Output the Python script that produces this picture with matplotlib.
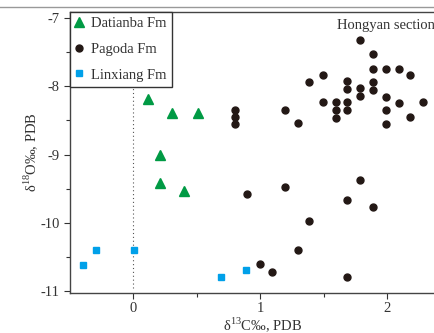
import matplotlib
matplotlib.use("Agg")
import matplotlib.pyplot as plt
from matplotlib.lines import Line2D

plt.rcParams['font.family'] = ['Liberation Serif', 'DejaVu Serif']
plt.rcParams['mathtext.fontset'] = 'custom'
plt.rcParams['mathtext.rm'] = 'Liberation Serif'
plt.rcParams['axes.unicode_minus'] = False

# Datianba Fm (green triangles)
dat_x = [0.115, 0.307, 0.507, 0.21, 0.21, 0.40]
dat_y = [-8.18, -8.39, -8.39, -9.00, -9.42, -9.53]

# Pagoda Fm (black circles)
pag_x = [1.786, 1.885, 1.885, 1.987, 2.09, 2.176, 1.49, 1.386, 1.68, 1.68,
         1.786, 1.885, 1.885, 1.786, 1.987, 1.49, 1.594, 1.68, 2.09, 2.28,
         1.594, 1.68, 1.987, 1.194, 1.594, 2.176, 1.297, 1.987, 0.798, 0.798,
         0.798, 0.893, 1.194, 1.787, 1.68, 1.885, 1.386, 1.297, 0.998, 1.094,
         1.68]
pag_y = [-7.32, -7.53, -7.74, -7.75, -7.74, -7.84, -7.83, -7.93, -7.92, -8.04,
         -8.03, -7.93, -8.05, -8.14, -8.15, -8.23, -8.23, -8.23, -8.25, -8.23,
         -8.35, -8.35, -8.35, -8.35, -8.47, -8.45, -8.54, -8.55, -8.35, -8.45,
         -8.55, -9.58, -9.48, -9.38, -9.67, -9.77, -9.97, -10.40, -10.61, -10.72,
         -10.80]

# Linxiang Fm (blue squares)
lin_x = [-0.394, -0.294, 0.005, 0.69, 0.887]
lin_y = [-10.62, -10.40, -10.40, -10.80, -10.70]

fig = plt.figure(figsize=(4.34, 3.33), dpi=100)
ax = fig.add_axes([70/434, 1-293/333, (456-70)/434, (293-12)/333])

ax.vlines(0, -10.95, -7.15, colors='#555555', linestyles=(0, (1, 2.5)), linewidth=0.8)

ax.plot(dat_x, dat_y, '^', color='#009a44', ms=6.5, ls='none', label='Datianba Fm')
ax.plot(pag_x, pag_y, 'o', color='#231815', ms=5, ls='none', label='Pagoda Fm')
ax.plot(lin_x, lin_y, 's', color='#00a0e9', ms=4.8, ls='none', label='Linxiang Fm')

ax.set_xlim(-0.5, 2.54)
ax.set_ylim(-11.03, -6.91)
ax.set_xticks([0, 1, 2])
ax.set_xticks([0.5, 1.5], minor=True)
ax.set_yticks([-11, -10, -9, -8, -7])
ax.set_yticks([-10.5, -9.5, -8.5, -7.5], minor=True)
ax.tick_params(axis='both', which='major', length=4, width=0.8, labelsize=10.5, direction='out', colors='#333333', labelcolor='#333333')
ax.tick_params(axis='x', which='major', pad=2.5)
ax.tick_params(axis='both', which='minor', length=3, width=0.8, direction='out', colors='#333333')
for s in ax.spines.values():
    s.set_color('#444444')
    s.set_linewidth(1.0)

ax.set_xlabel('δ$^{13}$C‰, PDB', fontsize=10.5, color='#333333', labelpad=0)
ax.set_ylabel('δ$^{18}$O‰, PDB', fontsize=10.5, color='#333333', labelpad=0)

ax.text(1.60, -7.11, 'Hongyan section', fontsize=10.5, color='#333333', ha='left', va='center')

leg = ax.legend(loc='upper left', borderaxespad=0, fancybox=False, framealpha=1,
                edgecolor='#333333', fontsize=10.5, handlelength=0.6, handletextpad=0.5,
                labelspacing=0.85, borderpad=0.35)
leg.get_frame().set_linewidth(1.0)
for t in leg.get_texts():
    t.set_color('#333333')

fig.add_artist(Line2D([0, 1], [1-7/333, 1-7/333], color='#999999', lw=1.0))

fig.savefig('out.png', dpi=100)
